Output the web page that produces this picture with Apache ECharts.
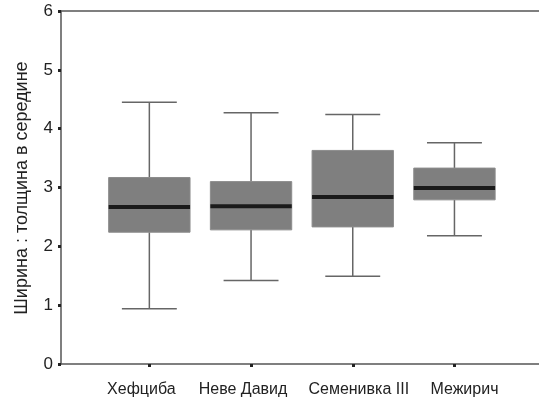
<!DOCTYPE html>
<html><head><meta charset="utf-8">
<script src="https://cdn.jsdelivr.net/npm/echarts@6/dist/echarts.min.js"></script>
<style>html,body{margin:0;padding:0;background:#fff}#c{width:539px;height:402px}</style>
</head><body><div id="c"></div>
<script>
const categories = ['Хефциба', 'Неве Давид', 'Семенивка III', 'Межирич'];
const lowWhisker = [0.94, 1.42, 1.49, 2.18];
const q1 = [2.24, 2.28, 2.33, 2.79];
const median = [2.67, 2.68, 2.84, 2.99];
const q3 = [3.17, 3.10, 3.63, 3.33];
const highWhisker = [4.45, 4.27, 4.24, 3.76];
const yTicks = [0, 1, 2, 3, 4, 5, 6];
const yTitle = 'Ширина : толщина в середине';

// label shifts (px) to mimic the original's label placement
const labelShift = [-8, -8, 6, 10];

const data = categories.map((c, i) => [i, lowWhisker[i], q1[i], median[i], q3[i], highWhisker[i]]);
const catData = categories.map((c, i) => ({
  value: c,
  textStyle: { padding: labelShift[i] < 0 ? [0, -2 * labelShift[i], 0, 0] : [0, 0, 0, 2 * labelShift[i]] }
}));
const font = 'Liberation Sans, Arial, sans-serif';
const axisCol = '#555';

const chart = echarts.init(document.getElementById('c'));
chart.setOption({
  animation: false,
  backgroundColor: '#fff',
  grid: [
    { left: 61, right: 0, top: 11, bottom: 38 },
    { left: 98.5, width: 406.8, top: 11, bottom: 38 }
  ],
  xAxis: [
    { gridIndex: 0, type: 'value', min: 0, max: 1, position: 'bottom',
      axisLine: { show: true, lineStyle: { color: axisCol, width: 1.5 } },
      axisTick: { show: false }, axisLabel: { show: false }, splitLine: { show: false } },
    { gridIndex: 0, type: 'value', min: 0, max: 1, position: 'top',
      axisLine: { show: true, lineStyle: { color: axisCol, width: 1.5 } },
      axisTick: { show: false }, axisLabel: { show: false }, splitLine: { show: false } },
    { gridIndex: 1, type: 'category', data: catData,
      axisLine: { show: false },
      axisTick: { show: true, interval: 0, alignWithLabel: true, length: 3, lineStyle: { color: '#222', width: 3 } },
      axisLabel: { show: true, interval: 0, fontSize: 16, color: '#222', fontFamily: font, margin: 18 },
      splitLine: { show: false } }
  ],
  yAxis: [
    { gridIndex: 0, type: 'value', min: 0, max: 6, interval: 1,
      axisLine: { show: true, lineStyle: { color: axisCol, width: 1.5 } },
      axisTick: { show: true, length: 3, lineStyle: { color: '#222', width: 3 } },
      axisLabel: { fontSize: 17, color: '#222', fontFamily: font, margin: 8,
        formatter: v => yTicks.includes(v) ? String(v) : '' },
      splitLine: { show: false } },
    { gridIndex: 1, type: 'value', min: 0, max: 6, show: false }
  ],
  graphic: [{
    type: 'text', x: 22, y: 188, rotation: Math.PI / 2,
    style: { text: yTitle, fontSize: 18, fill: '#222', fontFamily: font,
      align: 'center', verticalAlign: 'middle' }
  }],
  series: [{
    type: 'custom', xAxisIndex: 2, yAxisIndex: 1,
    data: data,
    encode: { x: 0, y: [1, 2, 3, 4, 5] },
    renderItem: function (params, api) {
      const i = api.value(0);
      const band = api.size([1, 0])[0];
      const bw = band * 0.8, cw = band * 0.54;
      const pLow = api.coord([i, api.value(1)]);
      const pQ1 = api.coord([i, api.value(2)]);
      const pMed = api.coord([i, api.value(3)]);
      const pQ3 = api.coord([i, api.value(4)]);
      const pHigh = api.coord([i, api.value(5)]);
      const x = pMed[0];
      const ls = { stroke: '#666', lineWidth: 1.5 };
      return { type: 'group', children: [
        { type: 'line', shape: { x1: x, y1: pHigh[1], x2: x, y2: pQ3[1] }, style: ls },
        { type: 'line', shape: { x1: x, y1: pLow[1], x2: x, y2: pQ1[1] }, style: ls },
        { type: 'line', shape: { x1: x - cw / 2, y1: pHigh[1], x2: x + cw / 2, y2: pHigh[1] }, style: ls },
        { type: 'line', shape: { x1: x - cw / 2, y1: pLow[1], x2: x + cw / 2, y2: pLow[1] }, style: ls },
        { type: 'rect', shape: { x: x - bw / 2, y: pQ3[1], width: bw, height: pQ1[1] - pQ3[1] },
          style: { fill: '#7f7f7f', stroke: '#8c8c8c', lineWidth: 1 } },
        { type: 'line', shape: { x1: x - bw / 2, y1: pMed[1], x2: x + bw / 2, y2: pMed[1] },
          style: { stroke: '#1a1a1a', lineWidth: 4 } }
      ] };
    }
  }]
});
</script></body></html>
